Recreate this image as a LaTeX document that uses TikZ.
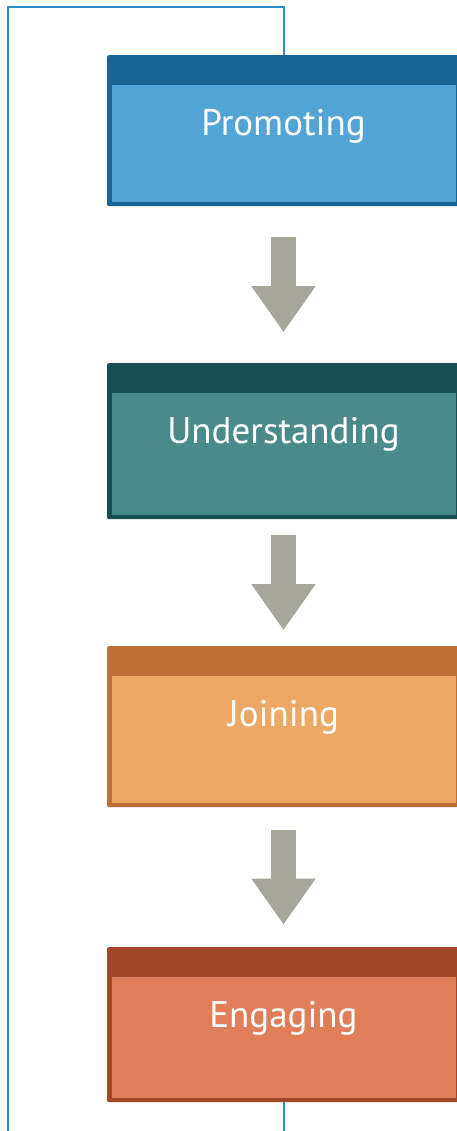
\documentclass[tikz,border=0pt]{standalone}
\usepackage{fontspec}
\setmainfont{PT Sans}
\usepackage{tikz}
\usetikzlibrary{arrows.meta,calc,positioning}
\definecolor{promdark}{HTML}{166494}
\definecolor{promlight}{HTML}{51A4D5}
\definecolor{unddark}{HTML}{174F51}
\definecolor{undlight}{HTML}{4A8A8B}
\definecolor{joindark}{HTML}{BC7034}
\definecolor{joinlight}{HTML}{EEA865}
\definecolor{engdark}{HTML}{A1472A}
\definecolor{englight}{HTML}{E07E5A}
\definecolor{arrowgray}{HTML}{A6A79A}
\definecolor{loopblue}{HTML}{2A8BCB}
\newcommand{\stagefont}{\fontsize{37pt}{42pt}\selectfont}
\tikzset{
  every picture/.style = {
    x = 1pt,
    y = 1pt,
  }
  , % boxes of the stages: dark header, light body
  stage/.style 2 args = {
    rectangle,
    rounded corners = 2pt,
    fill = #1,
    minimum width = 353pt,
    inner sep = 0pt,
    anchor = north,
    text height = 80pt,
    text = white,
    font = \stagefont,
    path picture = {
      \fill[#2, sharp corners] ([xshift=5pt,yshift=4.5pt]path picture bounding box.south west)
        rectangle ([xshift=-4pt,yshift=-30pt]path picture bounding box.north east);
    }
  }
  , % thick arrows between stages
  flow-arrow/.style = {
    draw = arrowgray,
    line width = 25pt,
    -{Triangle[width=61pt,length=46pt]}
  }
  , % the line going back to the start
  loop-line/.style = {
    draw = loopblue,
    line width = 2pt
  }
}

\begin{document}
\begin{tikzpicture}
    \useasboundingbox (0,0) rectangle (457,-1131);
    \clip (0,0) rectangle (457,-1131);
    \node[stage={promdark}{promlight}, text depth=71pt] (promoting) at (283.5,-55) {Promoting};
    \node[stage={unddark}{undlight}, text depth=76pt] (understanding) at (283.5,-363) {Understanding};
    \node[stage={joindark}{joinlight}, text depth=81pt] (joining) at (283.5,-646) {Joining};
    \node[stage={engdark}{englight}, text depth=75pt] (engaging) at (283.5,-947) {Engaging};
\foreach \a/\b in {promoting/understanding, understanding/joining, joining/engaging}
    \draw[flow-arrow] ($(\a.south)!0.5!(\b.north)+(0,47.5)$) -- ($(\a.south)!0.5!(\b.north)+(0,-47.5)$);
\coordinate (low-left) at (8,-1160);
\coordinate (top-left) at (8,-7);
\draw[loop-line] (engaging.south) |- (low-left) -- (top-left) -| (promoting.north);
\end{tikzpicture}
\end{document}
